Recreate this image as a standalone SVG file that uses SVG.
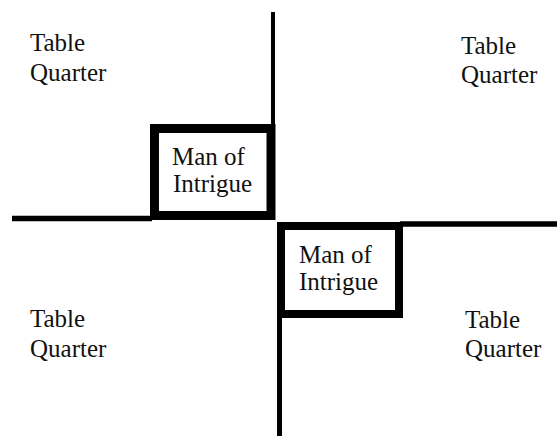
<svg xmlns="http://www.w3.org/2000/svg" width="557" height="439" viewBox="0 0 557 439">
<style>
text{font-family:"Liberation Serif","Times New Roman",serif;font-size:25px;fill:#111}
.ln{stroke:#000;fill:none}
.box{stroke:#000;fill:#fff}
</style>
<rect width="557" height="439" fill="#fff"/>
<g id="connectors">
<line class="ln" x1="273" y1="12" x2="273" y2="130" stroke-width="4"/>
<line class="ln" x1="12" y1="218.5" x2="152" y2="218.5" stroke-width="5.5"/>
<line class="ln" x1="400" y1="224" x2="557" y2="224" stroke-width="5.5"/>
<line class="ln" x1="279.5" y1="314" x2="279.5" y2="436" stroke-width="5"/>
</g>
<g id="tq-top-left">
<text x="30" y="51">Table</text>
<text x="30" y="81">Quarter</text>
</g>
<g id="tq-top-right">
<text x="461" y="54">Table</text>
<text x="461" y="83">Quarter</text>
</g>
<g id="tq-bottom-left">
<text x="30" y="327">Table</text>
<text x="30" y="357">Quarter</text>
</g>
<g id="tq-bottom-right">
<text x="465" y="328">Table</text>
<text x="465" y="357">Quarter</text>
</g>
<g id="man-1">
<rect class="box" x="154.5" y="128.5" width="116.5" height="87" stroke-width="9"/>
<text x="172" y="165">Man of</text>
<text x="173" y="192">Intrigue</text>
</g>
<g id="man-2">
<rect class="box" x="281" y="226" width="118" height="88" stroke-width="8"/>
<text x="299" y="263">Man of</text>
<text x="299" y="290">Intrigue</text>
</g>
</svg>
